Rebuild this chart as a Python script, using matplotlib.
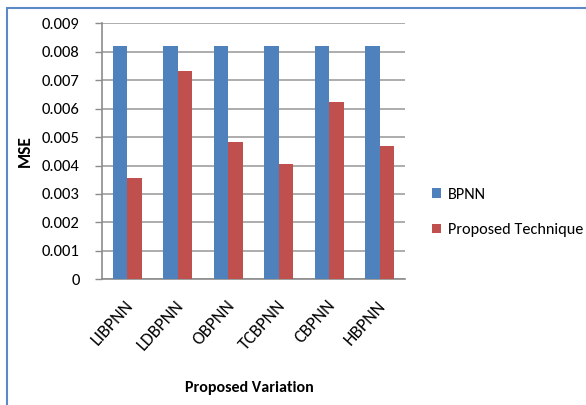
import numpy as np
import matplotlib.pyplot as plt
from matplotlib.patches import Rectangle

# MSE per network variation
variations = ['LIBPNN', 'LDBPNN', 'OBPNN', 'TCBPNN', 'CBPNN', 'HBPNN']
bpnn = [0.0082, 0.0082, 0.0082, 0.0082, 0.0082, 0.0082]
proposed = [0.00355, 0.00733, 0.00484, 0.00407, 0.00623, 0.00468]

plt.rcParams['font.family'] = ['Carlito', 'Lato', 'DejaVu Sans']

fig = plt.figure(figsize=(5.86, 4.05), dpi=100)
ax = fig.add_axes([0.174, 0.3104, 0.517, 0.632])

x = np.arange(len(variations))
w = 0.29
ax.bar(x - w/2, bpnn, width=w, color='#4F81BD', label='BPNN', zorder=3)
ax.bar(x + w/2, proposed, width=w, color='#C0504D', label='Proposed Technique', zorder=3)

ax.set_xlim(-0.5, len(variations) - 0.5)
ax.set_ylim(0, 0.009)
ax.set_yticks(np.arange(0, 0.0091, 0.001))
ax.set_yticklabels(['0'] + ['{:.3f}'.format(v) for v in np.arange(0.001, 0.0091, 0.001)],
                   fontsize=12)
ax.yaxis.grid(True, color='#A6A6A6', linewidth=1.3, zorder=0)
ax.tick_params(axis='y', length=5, color='#8C8C8C', width=1, pad=11)
ax.tick_params(axis='x', length=0, pad=13)
ax.set_xticks(x - 0.05)
ax.set_xticklabels(variations, rotation=48, ha='right', rotation_mode='anchor', fontsize=13)

for s in ['top', 'right']:
    ax.spines[s].set_visible(False)
ax.spines['left'].set_color('#8C8C8C')
ax.spines['bottom'].set_color('#8C8C8C')
ax.spines['left'].set_linewidth(1.2)
ax.spines['bottom'].set_linewidth(1.2)

fig.text(25/586, 1 - 151/405, 'MSE', fontsize=12.5, fontweight='bold',
         rotation=90, ha='center', va='center')
fig.text(249/586, 1 - 388/405, 'Proposed Variation', fontsize=11.5, fontweight='bold',
         ha='center', va='center')

fig.legend(loc='center left', bbox_to_anchor=(0.738, 0.475), frameon=False,
           fontsize=11.7, handlelength=0.55, handleheight=0.55, handletextpad=0.4,
           labelspacing=1.3, borderaxespad=0, borderpad=0)

# outer chart border
fig.add_artist(Rectangle((6.5/586, -0.02), 1.0, 1.0, transform=fig.transFigure,
                         fill=False, edgecolor='#5B8AC6', linewidth=1.5))

fig.savefig('out.png', dpi=100)
